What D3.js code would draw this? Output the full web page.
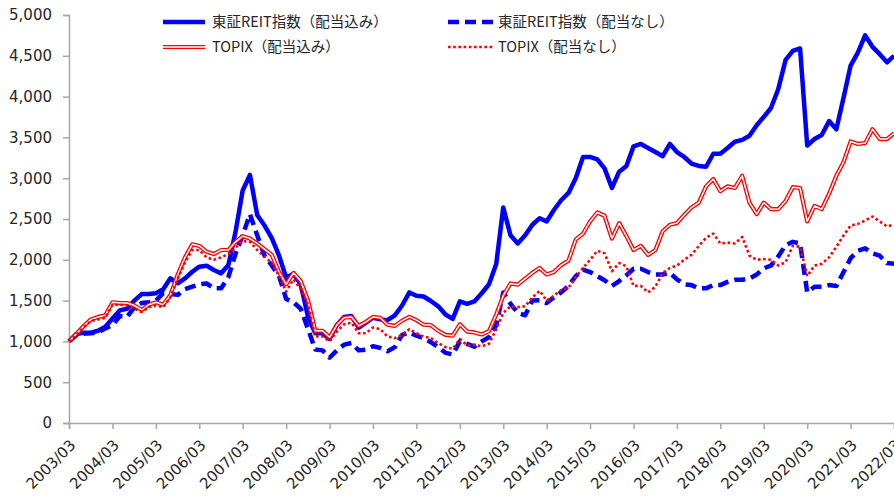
<!DOCTYPE html>
<html>
<head>
<meta charset="utf-8">
<script src="https://cdn.jsdelivr.net/npm/d3@7"></script>
<style>
  body { margin: 0; background: #fff; }
  svg { display: block; }
  .tick-label { font-family: "DejaVu Sans", Verdana, sans-serif; font-size: 15px; fill: #262626; }
  .legend-label { font-family: "Noto Sans CJK JP", "DejaVu Sans", sans-serif; font-size: 14.5px; fill: #262626; }
</style>
</head>
<body>
<div id="chart"></div>
<script>
// bi-monthly values, 2003/03 .. 2022/03
const reitTotal = [
  1000, 1091, 1105, 1107, 1131, 1180, 1280, 1380, 1400, 1500,
  1580, 1580, 1590, 1638, 1773, 1712, 1773, 1854, 1916, 1928,
  1875, 1834, 1936, 2350, 2850, 3040, 2550, 2420, 2265, 2050,
  1780, 1830, 1700, 1300, 1100, 1100, 1030, 1200, 1300, 1310,
  1170, 1230, 1290, 1270, 1260, 1320, 1440, 1600, 1560, 1550,
  1495, 1430, 1330, 1275, 1490, 1460, 1490, 1590, 1700, 1950,
  2640, 2300, 2200, 2300, 2430, 2510, 2470, 2610, 2730, 2820,
  3000, 3260, 3260, 3230, 3120, 2880, 3080, 3150, 3390, 3420,
  3370, 3320, 3270, 3420, 3320, 3260, 3180, 3150, 3140, 3300,
  3300, 3370, 3447, 3470, 3520, 3650, 3750, 3860, 4090, 4450,
  4560, 4590, 3400, 3480, 3530, 3700, 3600, 3990, 4380, 4540,
  4750, 4610, 4520, 4420, 4500
];
const reitPrice = [
  1000, 1075, 1095, 1100, 1110, 1160, 1200, 1310, 1300, 1420,
  1470, 1480, 1500, 1590, 1580, 1570, 1640, 1670, 1700, 1710,
  1650, 1650, 1790, 2080, 2300, 2560, 2300, 2050, 1930, 1800,
  1520, 1480, 1400, 1150, 900, 890, 800, 890, 960, 980,
  890, 900, 940, 920, 880, 930, 1080, 1110, 1070, 1040,
  990, 930, 860, 840, 1000, 970, 935, 1000, 1050, 1200,
  1600, 1460, 1350, 1320, 1500, 1505, 1470, 1540, 1600, 1680,
  1800, 1880, 1850, 1800, 1750, 1680, 1740, 1810, 1890, 1890,
  1850, 1820, 1820, 1840, 1760, 1700, 1690, 1650, 1650, 1690,
  1690, 1730, 1755, 1755, 1770, 1820, 1895, 1930, 2040, 2180,
  2220, 2200, 1600, 1670, 1670, 1690, 1680, 1850, 2020, 2110,
  2140, 2080, 2050, 1960, 1950
];
const topixTotal = [
  1000, 1090, 1185, 1270, 1300, 1320, 1480, 1470, 1470, 1440,
  1385, 1450, 1480, 1450, 1570, 1820, 2030, 2190, 2170, 2100,
  2070, 2120, 2120, 2220, 2290, 2260, 2200, 2130, 2060, 1850,
  1700, 1840, 1740, 1500, 1130, 1130, 1050, 1200, 1290, 1300,
  1190, 1240, 1300, 1290, 1205, 1190, 1255, 1300, 1260, 1205,
  1200, 1130, 1080, 1070, 1210, 1120, 1110, 1085, 1125, 1330,
  1560, 1710, 1695, 1770, 1840, 1900, 1820, 1850, 1935, 1990,
  2250, 2320, 2470, 2580, 2540, 2260, 2450, 2290, 2120, 2170,
  2060, 2120, 2350, 2430, 2450, 2550, 2640, 2700, 2900, 2990,
  2840, 2900, 2880, 3030, 2700, 2560, 2700, 2620, 2620, 2720,
  2890, 2880, 2470, 2660, 2620, 2810, 3030, 3200, 3450, 3420,
  3430, 3600, 3480, 3480, 3550
];
const topixPrice = [
  1000, 1080, 1170, 1250, 1270, 1290, 1450, 1450, 1440, 1400,
  1360, 1420, 1440, 1420, 1540, 1770, 1970, 2120, 2120, 2030,
  2000, 2030, 2070, 2150, 2230, 2220, 2120, 2040, 1960, 1800,
  1610, 1760, 1640, 1450, 1060, 1060, 1000, 1120, 1210, 1230,
  1100, 1100, 1170, 1150, 1060, 1040, 1080, 1150, 1100, 1060,
  1040, 980, 930, 910, 1030, 950, 960, 940, 970, 1150,
  1350, 1430, 1420, 1430, 1540, 1620, 1500, 1560, 1630, 1660,
  1790, 1900, 2000, 2110, 2080, 1860, 1960, 1920, 1680, 1680,
  1600, 1670, 1840, 1900, 1930, 2000, 2060, 2170, 2270, 2320,
  2200, 2210, 2200, 2280, 2050, 2000, 2010, 2000, 1930, 1970,
  2170, 2160, 1800, 1930, 1950, 2030, 2160, 2300, 2420, 2440,
  2480, 2530, 2470, 2410, 2430
];

const seriesNames = [
  "東証REIT指数（配当込み）",
  "東証REIT指数（配当なし）",
  "TOPIX（配当込み）",
  "TOPIX（配当なし）"
];
const yTicks = [0, 500, 1000, 1500, 2000, 2500, 3000, 3500, 4000, 4500, 5000];
const tickYears = d3.range(2003, 2023);

const width = 894, height = 497;
const margin = { left: 69, right: 0, top: 15, bottom: 74 };

const dates = reitTotal.map((_, i) => new Date(2003, 2 + 2 * i, 1));

const svg = d3.select("#chart").append("svg")
  .attr("width", width)
  .attr("height", height);

const x = d3.scaleTime()
  .domain([new Date(2003, 2, 1), new Date(2022, 2, 1)])
  .range([margin.left, width - margin.right]);

const y = d3.scaleLinear()
  .domain([0, 5000])
  .range([height - margin.bottom, margin.top]);

const axisColor = "#a6a6a6";

// y axis
const yAxis = svg.append("g")
  .attr("transform", `translate(${margin.left},0)`)
  .call(d3.axisLeft(y).tickValues(yTicks).tickSize(6).tickPadding(11).tickFormat(d3.format(",")));
yAxis.select(".domain").attr("stroke", axisColor).attr("stroke-width", 1.5);
yAxis.selectAll(".tick line").attr("stroke", axisColor).attr("stroke-width", 1.5);
yAxis.selectAll(".tick text").attr("class", "tick-label").attr("font-family", null).attr("font-size", null);

// x axis
const tickDates = tickYears.map(yr => new Date(yr, 2, 1));
const xAxis = svg.append("g")
  .attr("transform", `translate(0,${y(0)})`)
  .call(d3.axisBottom(x).tickValues(tickDates).tickSize(6).tickFormat(d3.timeFormat("%Y/%m")));
xAxis.select(".domain").attr("stroke", axisColor).attr("stroke-width", 1.5);
xAxis.selectAll(".tick line").attr("stroke", axisColor).attr("stroke-width", 1.5);
xAxis.selectAll(".tick text")
  .attr("class", "tick-label")
  .attr("font-family", null).attr("font-size", null)
  .attr("text-anchor", "end")
  .attr("dy", null)
  .attr("y", 0)
  .attr("transform", "translate(7,23) rotate(-45)");

// line styles
const styles = [
  { color: "#0000ff", width: 4.5, dash: null },
  { color: "#0000ff", width: 4.5, dash: "11,6" },
  { color: "#ff0000", width: 4.2, dash: null, double: true },
  { color: "#ff0000", width: 2.6, dash: "2.6,2.6" }
];

const allSeries = [reitTotal, reitPrice, topixTotal, topixPrice];

const line = d3.line()
  .x((d, i) => x(dates[i]))
  .y(d => y(d));

const plot = svg.append("g");
allSeries.forEach((vals, k) => {
  const s = styles[k];
  const p = plot.append("path")
    .datum(vals)
    .attr("fill", "none")
    .attr("stroke", s.color)
    .attr("stroke-width", s.width)
    .attr("stroke-linejoin", "round")
    .attr("d", line);
  if (s.dash) p.attr("stroke-dasharray", s.dash);
  if (s.double) {
    plot.append("path")
      .datum(vals)
      .attr("fill", "none")
      .attr("stroke", "#fff")
      .attr("stroke-width", 1.5)
      .attr("stroke-linejoin", "round")
      .attr("d", line);
  }
});

// legend
const legendPos = [
  { x1: 163, x2: 205, tx: 212, y: 22 },
  { x1: 448, x2: 493, tx: 498, y: 22 },
  { x1: 163, x2: 205, tx: 212, y: 47 },
  { x1: 448, x2: 493, tx: 498, y: 47 }
];
const legend = svg.append("g");
seriesNames.forEach((name, k) => {
  const s = styles[k], p = legendPos[k];
  const l = legend.append("line")
    .attr("x1", p.x1).attr("x2", p.x2)
    .attr("y1", p.y).attr("y2", p.y)
    .attr("stroke", s.color)
    .attr("stroke-width", s.width);
  if (s.dash) l.attr("stroke-dasharray", s.dash);
  if (s.double) {
    legend.append("line")
      .attr("x1", p.x1).attr("x2", p.x2)
      .attr("y1", p.y).attr("y2", p.y)
      .attr("stroke", "#fff")
      .attr("stroke-width", 1.5);
  }
  legend.append("text")
    .attr("class", "legend-label")
    .attr("x", p.tx)
    .attr("y", p.y)
    .attr("dy", "0.36em")
    .text(name);
});
</script>
</body>
</html>
